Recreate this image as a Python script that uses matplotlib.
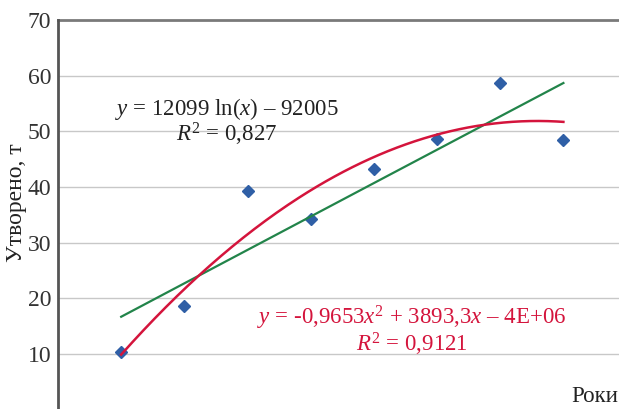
import numpy as np
import matplotlib
matplotlib.use("Agg")
import matplotlib.pyplot as plt

years = [2009, 2010, 2011, 2012, 2013, 2014, 2015, 2016]
values = [10.4, 18.6, 39.3, 34.2, 43.2, 48.7, 58.6, 48.5]
# polynomial trend line as drawn in the picture (value at each year)
poly_trend = [9.9, 21.6, 31.5, 39.4, 45.4, 49.4, 51.5, 51.7]
yticks = [10, 20, 30, 40, 50, 60, 70]
ylabel = "Утворено, т"
xlabel = "Роки"
eq_log = "$y$ = 12099 ln($x$) – 92005\n$R^2$ = 0,827"
eq_poly = "$y$ = -0,9653$x^2$ + 3893,3$x$ – 4E+06\n$R^2$ = 0,9121"

plt.rcParams['font.family'] = ['Liberation Serif', 'DejaVu Serif']
plt.rcParams['mathtext.fontset'] = 'custom'
plt.rcParams['mathtext.rm'] = 'Liberation Serif'
plt.rcParams['mathtext.it'] = 'Liberation Serif:italic'

W, H = 619, 409
fig = plt.figure(figsize=(W / 100, H / 100), dpi=100)
ax = fig.add_axes([58 / W, 0, 1 - 58 / W, (H - 20) / H])

x = np.array(years, dtype=float)
y = np.array(values)

# trend lines
a, b = np.polyfit(np.log(x), y, 1)
xs = np.linspace(x[0], x[-1], 200)
c2 = np.polyfit(x - x[0], np.array(poly_trend), 2)

ax.plot(x, y, linestyle='none', marker='D', markersize=6, color='#2f5fa6', zorder=3)
ax.plot(xs, a * np.log(xs) + b, color='#22844a', lw=1.6, zorder=4)
ax.plot(xs, np.polyval(c2, xs - x[0]), color='#d4143c', lw=1.8, zorder=4)

ax.set_xlim(x[0] - 1.0, x[0] + 7.88)
ax.set_ylim(0.1, 70)
ax.set_yticks(yticks)
ax.set_yticklabels([str(t) for t in yticks], fontsize=17, color='#333333')
ax.tick_params(axis='y', length=0, pad=5)
ax.set_xticks([])
for yt in yticks[:-1]:
    ax.axhline(yt, color='#c8c8c8', lw=1.0, zorder=1)
ax.axhline(70, color='#7a7a7a', lw=2.0, zorder=1, clip_on=False)
for s in ['top', 'right', 'bottom']:
    ax.spines[s].set_visible(False)
ax.spines['left'].set_color('#555555')
ax.spines['left'].set_linewidth(2.0)

fig.text(17 / W, 1 - 203 / H, ylabel, rotation=90, ha='center', va='center',
         fontsize=17, color='#222222')
fig.text(618 / W, 1 - 396 / H, xlabel, ha='right', va='center',
         fontsize=16.5, color='#222222')
fig.text(227 / W, 1 - 122 / H, eq_log, ha='center', va='center', multialignment='center',
         fontsize=16.5, color='#222222', linespacing=0.95)
fig.text(412 / W, 1 - 331 / H, eq_poly, ha='center', va='center', multialignment='center',
         fontsize=16.5, color='#d4143c', linespacing=0.95)

fig.savefig("out.png", dpi=100)
